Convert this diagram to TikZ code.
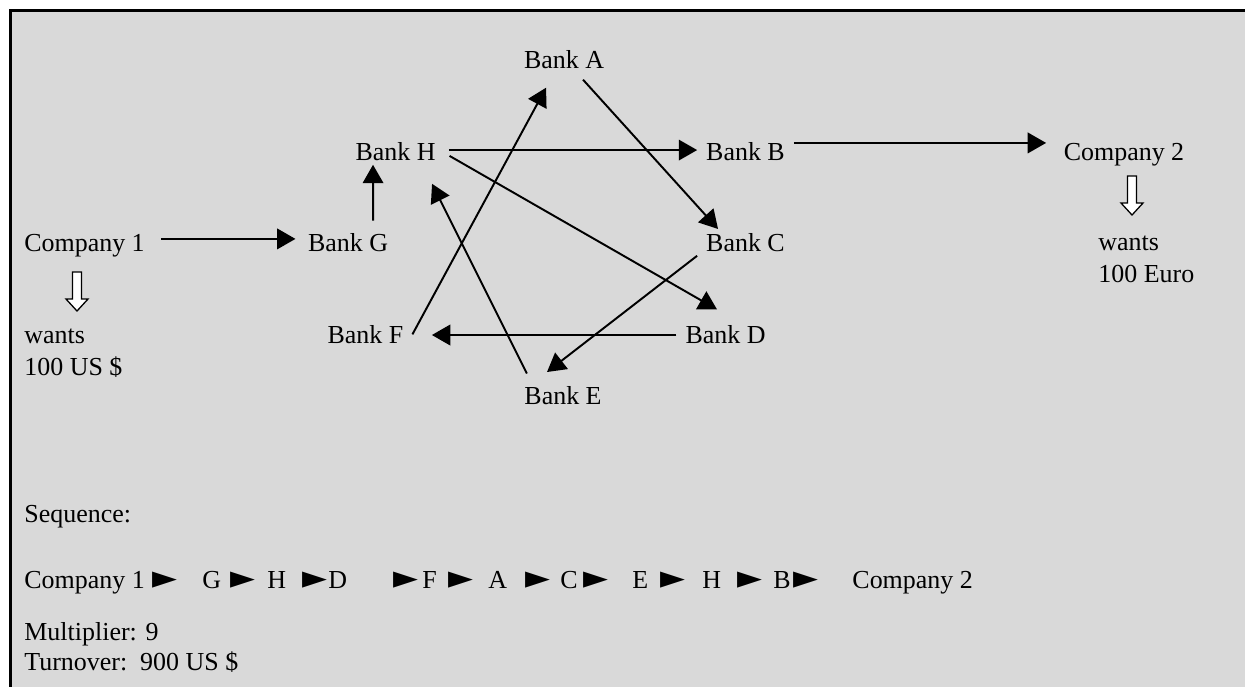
\documentclass[tikz,border=0pt]{standalone}
\usepackage{fontspec}
\setmainfont{Liberation Serif}
\newfontfamily\symfont{DejaVu Sans}
\usetikzlibrary{arrows.meta}
\definecolor{panelgray}{RGB}{217,217,217}
\newcommand{\ptr}{{\symfont\fontsize{15}{14}\selectfont ►}}

\begin{document}
\begin{tikzpicture}[x=0.4625pt,y=-0.4625pt,
    txt/.style={font=\fontsize{12}{14}\selectfont, inner sep=0pt, anchor=base west},
    bank/.style={font=\fontsize{12}{14}\selectfont, text height=8pt, text depth=0pt,
                 inner xsep=4pt, inner ysep=2pt, anchor=base},
    arr/.style={line width=0.9pt, -{Triangle[length=8.5pt,width=9.5pt]}},
    hollowdown/.pic={\draw[line width=0.6pt, fill=white] (-4.5,0) -- (-4.5,27) -- (-11,27)
                     -- (0,39) -- (11,27) -- (4.5,27) -- (4.5,0) -- cycle;}]
    \useasboundingbox (0,0) rectangle (1245,686);
    \clip (0,0) rectangle (1245,686);
    \draw[line width=1pt, fill=panelgray] (10.5,10.5) rectangle (1300,760);

    % banks in the ring
    \node[bank] (bA) at (564,68) {Bank A};
    \node[bank] (bH) at (395.5,160) {Bank H};
    \node[bank] (bB) at (745.5,160) {Bank B};
    \node[bank] (bG) at (348,251) {Bank G};
    \node[bank] (bC) at (745.5,251) {Bank C};
    \node[bank] (bF) at (365.5,343) {Bank F};
    \node[bank] (bD) at (725.5,343) {Bank D};
    \node[bank] (bE) at (563,404) {Bank E};

    % the two companies
    \node[bank] (coA) at (84.5,251) {Company 1};
    \node[bank] (coB) at (1124,160) {Company 2};
    \pic at (77,272) {hollowdown};
    \pic at (1132,176) {hollowdown};
    \node[txt] (wantsA) at (24,343) {wants};
    \node[txt] (sumA) at (24,375) {100 US \$};
    \node[txt] (wantsB) at (1098,250) {wants};
    \node[txt] (sumB) at (1098,282) {100 Euro};

    % payment chain
    \draw[arr] ([xshift=3.4pt,yshift=1.6pt]coA.east) -- ([xshift=-1.6pt,yshift=1.6pt]bG.west);
    \draw[arr] ([xshift=11.6pt,yshift=3.9pt]bG.north) -- ([xshift=-10.4pt]bH.south);
    \draw[arr] ([xshift=2pt,yshift=0.6pt]bH.east) -- ([yshift=0.6pt]bB.west);
    \draw[arr] ([yshift=3.9pt]bB.east) -- ([xshift=-4pt,yshift=3.9pt]coB.west);
    \draw[arr] ([xshift=2.3pt,yshift=-2.1pt]bH.east) -- ([xshift=-3.9pt,yshift=5.3pt]bD.north);
    \draw[arr, shorten >=9pt] ([yshift=-0.3pt]bD.west) -- ([yshift=-0.3pt]bF.east);
    \draw[arr] (bF.east) -- ([xshift=-8.3pt,yshift=-6.9pt]bA.south);
    \draw[arr] ([xshift=8.8pt,yshift=-3.2pt]bA.south) -- ([xshift=-12.7pt]bC.north);
    \draw[arr] (bC.south west) -- ([xshift=-7.4pt,yshift=4.6pt]bE.north);
    \draw[arr] ([xshift=-16.7pt,yshift=3.9pt]bE.north) -- ([xshift=16.9pt,yshift=-8.8pt]bH.south);

    % summary below
    \node[txt] (seqhead) at (24,522) {Sequence:};
    \foreach \x/\t [count=\i] in {24/Company 1, 152/\ptr, 202/G, 230/\ptr, 267/H, 302/\ptr,
        328/D, 393/\ptr, 422/F, 448/\ptr, 488/A, 525/\ptr, 560/C, 583/\ptr, 632/E,
        660/\ptr, 702/H, 737/\ptr, 773/B, 793/\ptr, 852/Company 2}
        \node[txt] (seq\i) at (\x,588) {\t};
    \node[txt] (mult) at (24,640) {Multiplier: 9};
    \node[txt] (turn) at (24,670) {Turnover:\ \ 900 US \$};
\end{tikzpicture}
\end{document}
